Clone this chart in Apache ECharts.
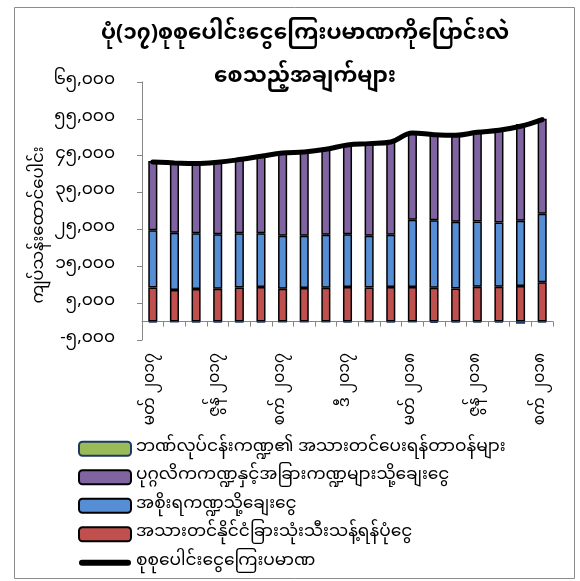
<!DOCTYPE html>
<html>
<head>
<meta charset="utf-8">
<script src="https://cdn.jsdelivr.net/npm/echarts@6/dist/echarts.min.js"></script>
<style>
html,body{margin:0;padding:0;background:#fff;}
#chart{width:580px;height:581px;}
</style>
</head>
<body>
<div id="chart"></div>
<script>
// Categories (months), only every third is labelled
const categories = ['မတ် ၂၀၁၇','ဧပြီ ၂၀၁၇','မေ ၂၀၁၇','ဇွန် ၂၀၁၇','ဇူ ၂၀၁၇','ဩ ၂၀၁၇','စက် ၂၀၁၇','အောက် ၂၀၁၇','နို ၂၀၁၇','ဒီ ၂၀၁၇','ဇန် ၂၀၁၈','ဖေ ၂၀၁၈','မတ် ၂၀၁၈','ဧပြီ ၂၀၁၈','မေ ၂၀၁၈','ဇွန် ၂၀၁၈','ဇူ ၂၀၁၈','ဩ ၂၀၁၈','စက် ၂၀၁၈'];

const seriesNames = [
  'ဘဏ်လုပ်ငန်းကဏ္ဍ၏ အသားတင်ပေးရန်တာဝန်များ',
  'ပုဂ္ဂလိကကဏ္ဍနှင့်အခြားကဏ္ဍများသို့ချေးငွေ',
  'အစိုးရကဏ္ဍသို့ချေးငွေ',
  'အသားတင်နိုင်ငံခြားသုံးသီးသန့်ရန်ပုံငွေ',
  'စုစုပေါင်းငွေကြေးပမာဏ'
];

// Net foreign assets (red)
const netForeign = [9260, 8540, 8810, 8900, 9260, 9350, 8900, 9080, 9170, 9350, 9260, 9350, 9350, 9170, 8990, 9440, 9440, 9620, 10700];
// Credit to government (blue)
const govCredit = [15540, 15530, 15170, 14810, 14720, 14630, 14360, 14180, 14360, 14360, 14000, 14180, 18250, 18340, 18070, 17710, 17440, 17710, 18570];
// Credit to private & other sectors (purple)
const privCredit = [18770, 19030, 19080, 19710, 20170, 21070, 22540, 22810, 23270, 24410, 25070, 25400, 23620, 23610, 23680, 24450, 25270, 26250, 25770];
// Net other items of banking sector (green, small negatives)
const otherItems = [-250, -50, -200, -200, -200, -200, -50, -50, -50, -200, -50, -200, -50, -400, -200, -250, -250, -600, -250];
// Broad money total (line)
const broadMoney = [43320, 43050, 42860, 43220, 43950, 44850, 45750, 46020, 46750, 47920, 48280, 48730, 51170, 50720, 50540, 51350, 51900, 52980, 54790];

const yTicks = [-5000, 5000, 15000, 25000, 35000, 45000, 55000, 65000];
const yTickLabels = ['-၅,၀၀၀', '၅,၀၀၀', '၁၅,၀၀၀', '၂၅,၀၀၀', '၃၅,၀၀၀', '၄၅,၀၀၀', '၅၅,၀၀၀', '၆၅,၀၀၀'];

const titleText = 'ပုံ(၁၇)စုစုပေါင်းငွေကြေးပမာဏကိုပြောင်းလဲ\nစေသည့်အချက်များ';
const yAxisName = 'ကျပ်သန်းထောင်ပေါင်း';

const FONT = "'Noto Sans Myanmar','Padauk','Myanmar Text','Noto Sans','DejaVu Sans',sans-serif";
const chart = echarts.init(document.getElementById('chart'), null, {renderer: 'canvas'});

const barBorder = {borderColor: '#000', borderWidth: 1.5};
const lineIcon = 'path://M3,0 L49,0 A3,3 0 0 1 49,6 L3,6 A3,3 0 0 1 3,0 Z';

chart.setOption({
  animation: false,
  textStyle: {fontFamily: FONT, color: '#000'},
  graphic: [{
    type: 'rect', left: 12, top: 5,
    shape: {width: 560, height: 571},
    style: {fill: 'none', stroke: '#8c8c8c', lineWidth: 1}
  }, {
    type: 'text', x: 41, y: 225, rotation: Math.PI / 2,
    style: {text: yAxisName, font: '16.5px ' + FONT, fill: '#000', align: 'center', verticalAlign: 'middle'}
  }],
  title: {
    text: titleText,
    left: 300, top: 10, textAlign: 'center',
    textStyle: {fontFamily: FONT, fontSize: 21.5, fontWeight: 'bold', color: '#000', lineHeight: 43, align: 'center'}
  },
  grid: {left: 142, right: 27, top: 82, bottom: 241, containLabel: false, outerBoundsMode: 'none'},
  legend: {
    orient: 'vertical', left: 78, top: 438, padding: 0,
    itemWidth: 52, itemHeight: 14, itemGap: 7,
    textStyle: {fontFamily: FONT, fontSize: 17, color: '#000', lineHeight: 21.5},
    data: seriesNames.slice(0, 4).concat([{name: seriesNames[4], icon: lineIcon}])
  },
  xAxis: [{
    type: 'category', data: categories, position: 'bottom',
    axisLine: {onZero: false, show: false},
    axisTick: {show: false},
    axisLabel: {interval: 2, rotate: 90, fontFamily: FONT, fontSize: 15.5, color: '#000', margin: 13}
  }, {
    type: 'category', data: categories, position: 'bottom',
    axisLine: {onZero: true, lineStyle: {color: '#868686', width: 1}},
    axisTick: {show: true, interval: 0, length: 5, lineStyle: {color: '#868686'}},
    axisLabel: {show: false}
  }],
  yAxis: {
    type: 'value', min: -5000, max: 65000, interval: 10000,
    axisLine: {show: true, lineStyle: {color: '#868686', width: 1}},
    axisTick: {show: true, length: 5, lineStyle: {color: '#868686'}},
    splitLine: {show: false},
    axisLabel: {
      fontFamily: FONT, fontSize: 17, color: '#000', margin: 27,
      formatter: function (v) { const i = yTicks.indexOf(v); return i >= 0 ? yTickLabels[i] : ''; }
    }
  },
  series: [
    {name: seriesNames[3], type: 'bar', stack: 'm', data: netForeign, barWidth: '42%',
     itemStyle: Object.assign({color: '#C0504D'}, barBorder)},
    {name: seriesNames[2], type: 'bar', stack: 'm', data: govCredit,
     itemStyle: Object.assign({color: '#558ED5'}, barBorder)},
    {name: seriesNames[1], type: 'bar', stack: 'm', data: privCredit,
     itemStyle: Object.assign({color: '#8064A2'}, barBorder)},
    {name: seriesNames[0], type: 'bar', stack: 'm', data: otherItems,
     itemStyle: {color: '#9BBB59', borderColor: '#1F3864', borderWidth: 1.5}},
    {name: seriesNames[4], type: 'line', data: broadMoney, smooth: 0.4, symbol: 'none', z: 10,
     lineStyle: {color: '#000', width: 5, cap: 'round'}, itemStyle: {color: '#000'}}
  ]
});
</script>
</body>
</html>
